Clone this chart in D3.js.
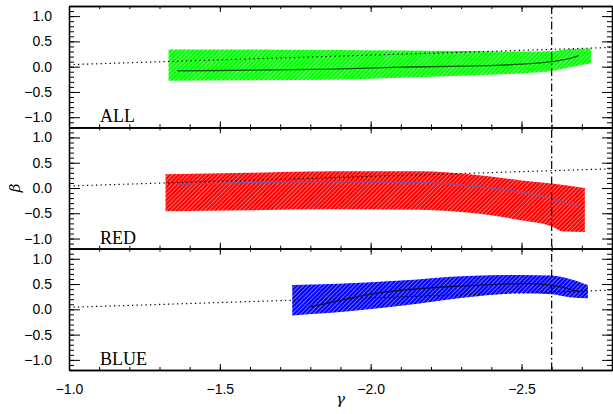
<!DOCTYPE html>
<html>
<head>
<meta charset="utf-8">
<script src="https://cdn.jsdelivr.net/npm/d3@7"></script>
<style>
  body { margin: 0; background: #fff; }
  svg { display: block; }
</style>
</head>
<body>
<svg id="chart"></svg>
<script>
// axis ticks
const gammaTicks = [-1.0, -1.5, -2.0, -2.5];
const betaTicks = [-1.0, -0.5, 0.0, 0.5, 1.0];
const gammaDomain = [-1.0, -2.8];
const betaDomain = [-1.2, 1.2];
const gammaCut = -2.6;

// dotted reference line
const refGamma = [-1.0, -2.8];
const refBeta = [0.04, 0.38];

// ALL
const allBandGamma = [-1.33, -1.6, -1.87, -2.1, -2.3, -2.43, -2.53, -2.6, -2.66, -2.73];
const allBandHi = [0.34, 0.34, 0.33, 0.32, 0.31, 0.30, 0.30, 0.31, 0.35, 0.36];
const allBandLo = [-0.28, -0.27, -0.26, -0.22, -0.18, -0.15, -0.12, -0.085, -0.01, 0.07];
const allLineGamma = [-1.36, -1.6, -1.87, -2.1, -2.43, -2.5, -2.6, -2.65, -2.69];
const allLineBeta = [-0.085, -0.07, -0.05, -0.01, 0.03, 0.05, 0.10, 0.15, 0.22];

// RED
const redBandGamma = [-1.32, -1.6, -1.87, -2.16, -2.36, -2.5, -2.6, -2.64, -2.71];
const redBandHi = [0.27, 0.30, 0.33, 0.33, 0.25, 0.15, 0.09, 0.06, 0.0];
const redBandLo = [-0.46, -0.44, -0.42, -0.43, -0.51, -0.64, -0.76, -0.86, -0.87];
const redLineGamma = [-1.36, -1.77, -2.16, -2.36, -2.5, -2.6, -2.69];
const redLineBeta = [0.07, 0.12, 0.11, 0.02, -0.08, -0.21, -0.375];

// BLUE
const blueBandGamma = [-1.74, -1.87, -2.1, -2.32, -2.5, -2.6, -2.66, -2.72];
const blueBandHi = [0.48, 0.50, 0.57, 0.66, 0.68, 0.67, 0.60, 0.48];
const blueBandLo = [-0.12, -0.07, 0.07, 0.24, 0.32, 0.30, 0.24, 0.22];
const blueLineGamma = [-1.8, -1.87, -2.0, -2.33, -2.53, -2.6, -2.69];
const blueLineBeta = [0.05, 0.14, 0.30, 0.47, 0.51, 0.48, 0.35];

const panels = [
  { name: 'ALL', fill: '#00ff00', lineColor: '#0b5d0b',
    bandG: allBandGamma, bandHi: allBandHi, bandLo: allBandLo, lineG: allLineGamma, lineB: allLineBeta },
  { name: 'RED', fill: '#ff0000', lineColor: '#8a4f92',
    bandG: redBandGamma, bandHi: redBandHi, bandLo: redBandLo, lineG: redLineGamma, lineB: redLineBeta },
  { name: 'BLUE', fill: '#0000ff', lineColor: '#101040',
    bandG: blueBandGamma, bandHi: blueBandHi, bandLo: blueBandLo, lineG: blueLineGamma, lineB: blueLineBeta }
];

const width = 613, height = 414;
const plotLeft = 69, plotRight = 612, plotTop = 6, plotBottom = 370;
const panelH = (plotBottom - plotTop) / panels.length;
const tickFont = '"Liberation Sans", Arial, sans-serif';
const fmt = d => d3.format('.1f')(d).replace('-', '\u2212');

const svg = d3.select('#chart').attr('width', width).attr('height', height);

// hatched fill: mostly solid colour with thin light diagonal lines
const defs = svg.append('defs');
panels.forEach((p, i) => {
  const pat = defs.append('pattern')
    .attr('id', 'hatch' + i)
    .attr('patternUnits', 'userSpaceOnUse')
    .attr('width', 3).attr('height', 3)
    .attr('patternTransform', 'rotate(45)');
  pat.append('rect').attr('width', 3).attr('height', 3).attr('fill', p.fill);
  pat.append('rect').attr('x', 2.3).attr('width', 0.7).attr('height', 3).attr('fill', '#fff').attr('opacity', 0.6);
});

const xscale = d3.scaleLinear().domain(gammaDomain).range([plotLeft, plotRight]);
const minorGamma = d3.range(10, 29).map(v => -v / 10);
const minorBeta = d3.range(-12, 13).map(v => v / 10);

panels.forEach((p, i) => {
  const y0 = plotTop + i * panelH;
  const yscale = d3.scaleLinear().domain(betaDomain).range([y0 + panelH, y0]);
  const g = svg.append('g');

  // band
  const band = p.bandG.map((gv, k) => ({ g: gv, hi: p.bandHi[k], lo: p.bandLo[k] }));
  g.append('path')
    .datum(band)
    .attr('fill', `url(#hatch${i})`)
    .attr('d', d3.area()
      .x(d => xscale(d.g))
      .y0(d => yscale(d.lo))
      .y1(d => yscale(d.hi))
      .curve(d3.curveMonotoneX));

  // fitted line
  const line = p.lineG.map((gv, k) => ({ g: gv, b: p.lineB[k] }));
  g.append('path')
    .datum(line)
    .attr('fill', 'none')
    .attr('stroke', p.lineColor)
    .attr('stroke-width', 1.3)
    .attr('d', d3.line().x(d => xscale(d.g)).y(d => yscale(d.b)).curve(d3.curveMonotoneX));

  // dotted reference
  const ref = refGamma.map((gv, k) => ({ g: gv, b: refBeta[k] }));
  g.append('path')
    .datum(ref)
    .attr('fill', 'none')
    .attr('stroke', '#000')
    .attr('stroke-width', 1.2)
    .attr('stroke-dasharray', '1.3,3.2')
    .attr('d', d3.line().x(d => xscale(d.g)).y(d => yscale(d.b)));

  // minor y ticks, both sides
  g.append('g').attr('transform', `translate(${plotLeft},0)`)
    .call(d3.axisLeft(yscale).tickValues(minorBeta).tickSize(-5).tickSizeOuter(0).tickFormat(''));
  g.append('g').attr('transform', `translate(${plotRight},0)`)
    .call(d3.axisRight(yscale).tickValues(minorBeta).tickSize(-5).tickSizeOuter(0).tickFormat(''));
  // major y ticks
  g.append('g').attr('transform', `translate(${plotLeft},0)`)
    .call(d3.axisLeft(yscale).tickValues(betaTicks).tickSize(-11).tickSizeOuter(0)
      .tickFormat(fmt).tickPadding(17));
  g.append('g').attr('transform', `translate(${plotRight},0)`)
    .call(d3.axisRight(yscale).tickValues(betaTicks).tickSize(-10).tickSizeOuter(0).tickFormat(''));

  // x ticks, top and bottom
  g.append('g').attr('transform', `translate(0,${y0})`)
    .call(d3.axisTop(xscale).tickValues(minorGamma).tickSize(-3).tickSizeOuter(0).tickFormat(''));
  g.append('g').attr('transform', `translate(0,${y0})`)
    .call(d3.axisTop(xscale).tickValues(gammaTicks).tickSize(-6).tickSizeOuter(0).tickFormat(''));
  g.append('g').attr('transform', `translate(0,${y0 + panelH})`)
    .call(d3.axisBottom(xscale).tickValues(minorGamma).tickSize(-3).tickSizeOuter(0).tickFormat(''));
  g.append('g').attr('transform', `translate(0,${y0 + panelH})`)
    .call(d3.axisBottom(xscale).tickValues(gammaTicks).tickSize(-6).tickSizeOuter(0)
      .tickFormat(i === panels.length - 1 ? fmt : '')
      .tickPadding(14));

  g.selectAll('.domain').attr('stroke', '#000').attr('stroke-width', 1.3);
  g.selectAll('.tick line').attr('stroke', '#000').attr('stroke-width', 1);
  g.selectAll('.tick text').attr('fill', '#000').style('font-family', tickFont).style('font-size', '14px');

  // panel label
  g.append('text')
    .attr('x', 100)
    .attr('y', yscale(-1.0) + 5)
    .style('font-family', '"Liberation Serif", "Times New Roman", serif')
    .style('font-size', '18px')
    .text(p.name);
});

// dash-dot vertical line
svg.append('line')
  .attr('x1', xscale(gammaCut)).attr('x2', xscale(gammaCut))
  .attr('y1', plotTop).attr('y2', plotBottom)
  .attr('stroke', '#000')
  .attr('stroke-width', 1.2)
  .attr('stroke-dasharray', '8,3,1.5,3');

// axis titles
svg.append('text')
  .attr('transform', `translate(20,${plotTop + panelH * 1.5}) rotate(-90)`)
  .attr('text-anchor', 'middle')
  .style('font-family', '"DejaVu Serif", serif')
  .style('font-style', 'italic')
  .style('font-size', '15px')
  .text('β');

svg.append('text')
  .attr('x', xscale(-1.9))
  .attr('y', 404)
  .attr('text-anchor', 'middle')
  .style('font-family', '"DejaVu Serif", serif')
  .style('font-style', 'italic')
  .style('font-size', '15px')
  .text('γ');
</script>
</body>
</html>
